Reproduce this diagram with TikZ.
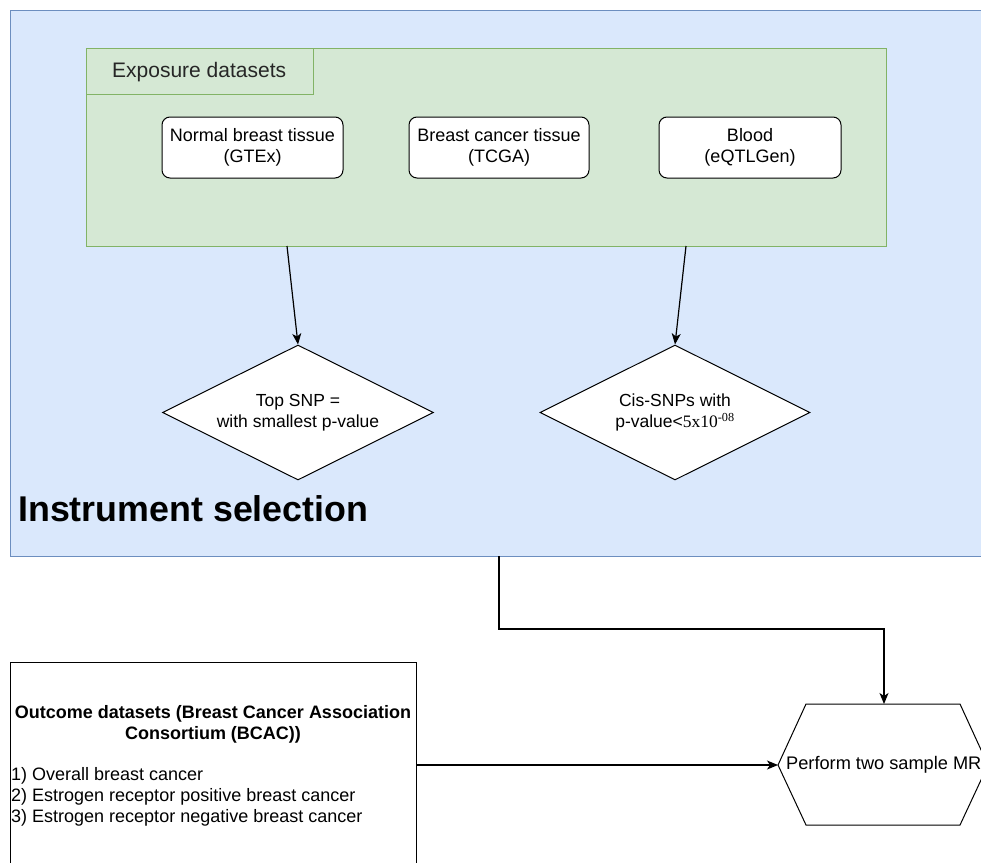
\documentclass[tikz,border=0pt]{standalone}
\usepackage{fontspec}
\setmainfont{Liberation Sans}
\newfontfamily\serifpart{Liberation Serif}
\usetikzlibrary{shapes.geometric,arrows.meta}
\definecolor{bluefill}{HTML}{DAE8FC}
\definecolor{blueline}{HTML}{6C8EBF}
\definecolor{greenfill}{HTML}{D5E8D4}
\definecolor{greenline}{HTML}{82B366}
\tikzset{
  container/.style={draw=blueline,fill=bluefill,line width=1pt,inner sep=0pt,anchor=north west},
  group/.style={draw=greenline,fill=greenfill,line width=1pt,inner sep=0pt,anchor=north west},
  dataset/.style={draw=black,fill=white,rounded corners=8pt,line width=1pt,minimum height=61pt,
    align=center,font=\fontsize{18}{21}\selectfont,inner sep=0pt},
  decision/.style={diamond,aspect=2,draw=black,fill=white,line width=1pt,minimum width=271pt,minimum height=135pt,
    inner sep=0pt,align=center,font=\fontsize{17.5}{21}\selectfont},
  arr/.style={draw=black,line width=1.2pt,-{Stealth[length=11pt,width=9pt,inset=3pt]}},
  plainbox/.style={draw=black,fill=white,line width=1pt,inner sep=0pt,anchor=north west}
}
\begin{document}
\begin{tikzpicture}[x=1pt,y=-1pt]
\useasboundingbox (0,0) rectangle (981,862);
\fill[white] (0,0) rectangle (981,862);
\clip (0,0) rectangle (981,862);

% instrument selection container
\node[container,minimum width=990pt,minimum height=546pt] (inst) at (10,10) {};
\node[anchor=west,font=\fontsize{35.8}{40}\selectfont\bfseries,inner sep=0pt] (instlabel) at (18,509) {Instrument selection};

% exposure datasets group
\node[group,minimum width=800pt,minimum height=198pt] (exp) at (86,48) {};
\node[group,minimum width=227pt,minimum height=46pt] (exptab) at (86,48) {};
\node[anchor=west,font=\fontsize{21}{24}\selectfont,text=black!85,inner sep=0pt] (explabel) at (112,72) {Exposure datasets};

\node[dataset,minimum width=181pt] (gtex) at (252.5,147.5) {Normal breast tissue\\(GTEx)};
\node[dataset,minimum width=180pt] (tcga) at (499,147.5) {Breast cancer tissue\\(TCGA)};
\node[dataset,minimum width=182pt] (blood) at (750,147.5) {Blood\\(eQTLGen)};

% decisions
\node[decision] (top) at (298,412.5) {Top SNP =\\with smallest p-value};
\node[decision,minimum width=270pt] (cis) at (675,412.5) {Cis-SNPs with\\p-value<{\serifpart 5x10\textsuperscript{-08}}};

\coordinate (a1) at (287,246);
\coordinate (a2) at (686,246);
\draw[arr] (a1) -- (top.north);
\draw[arr] (a2) -- (cis.north);

% outcome box
\node[plainbox,minimum width=406pt,minimum height=210pt] (out) at (10,662) {};
\node[align=center,font=\fontsize{18}{21}\selectfont\bfseries,inner sep=0pt] (outtitle) at (213,724.5)
  {Outcome datasets (Breast Cancer Association\\Consortium (BCAC))};
\node[anchor=north west,align=left,font=\fontsize{18}{21}\selectfont,inner sep=0pt] (outlist) at (11,767)
  {1) Overall breast cancer\\2) Estrogen receptor positive breast cancer\\3) Estrogen receptor negative breast cancer};

% hexagon
\coordinate (hexL) at (778,765);
\coordinate (hexT) at (884,704);
\draw[line width=1pt,fill=white] (hexL) -- (806,704) -- (960,704) -- (988,765) -- (960,825) -- (806,825) -- cycle;
\node[anchor=west,font=\fontsize{18.2}{21}\selectfont,inner sep=0pt] (mr) at (786,765) {Perform two sample MR};

% connectors
\coordinate (c1) at (499,556);
\coordinate (bend) at (499,629);
\draw[arr] (c1) -- (bend) -| (hexT);
\draw[arr] (out.east |- hexL) -- (hexL);
\end{tikzpicture}
\end{document}
